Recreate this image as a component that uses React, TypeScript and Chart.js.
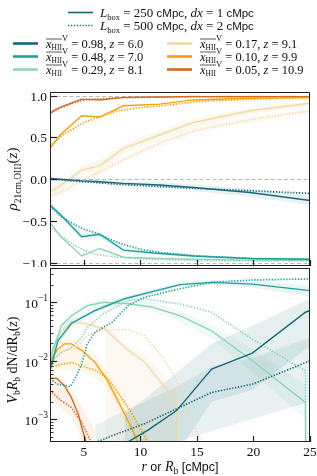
import React, { useEffect, useRef } from 'react';
import { Chart, registerables } from 'chart.js';
Chart.register(...registerables);

// ---------- data ----------
const xTicks = [5, 10, 15, 20, 25];
const rhoTicks = [-1, -0.5, 0, 0.5, 1];
const rhoRefLines = [-1, 0, 1];
const nTicks = [1e-3, 1e-2, 1e-1];
const nTickExp = ['−3', '−2', '−1'];

const xhiiLabels = ['0.98', '0.48', '0.29', '0.17', '0.10', '0.05'];
const zLabels = ['6.0', '7.0', '8.1', '9.1', '9.9', '10.9'];

// top panel: correlation coefficient
const rS = [2, 2.9, 4.8, 6.4, 8.5, 11.7, 14.7, 19.7, 25];
const rD = [2, 3, 4, 5, 6, 8, 10, 12, 15, 20, 25];
const rhoS6 = [0.01, 0.0, -0.02, -0.03, -0.05, -0.07, -0.1, -0.16, -0.255];
const rhoD6 = [0.0, -0.01, -0.02, -0.03, -0.04, -0.06, -0.075, -0.09, -0.11, -0.14, -0.17];
const rhoS7 = [-0.31, -0.42, -0.69, -0.66, -0.85, -0.89, -0.92, -0.95, -0.96];
const rhoD7 = [-0.33, -0.45, -0.53, -0.6, -0.64, -0.76, -0.84, -0.88, -0.92, -0.95, -0.96];
const rhoS8 = [-0.52, -0.68, -0.92, -0.83, -0.935, -0.95, -0.96, -0.97, -0.975];
const rhoD8 = [-0.57, -0.68, -0.78, -0.85, -0.9, -0.935, -0.955, -0.965, -0.975, -0.98, -0.98];
const rhoS9 = [-0.15, -0.08, 0.11, 0.16, 0.37, 0.53, 0.68, 0.82, 0.91];
const rhoD9 = [-0.21, -0.15, -0.08, 0.0, 0.06, 0.2, 0.33, 0.45, 0.59, 0.72, 0.82];
const rhoS99 = [0.37, 0.53, 0.76, 0.745, 0.88, 0.9, 0.95, 0.97, 0.98];
const rhoD99 = [0.39, 0.52, 0.6, 0.68, 0.73, 0.82, 0.86, 0.88, 0.93, 0.96, 0.975];
const rhoS109 = [0.79, 0.86, 0.96, 0.95, 0.98, 0.985, 0.99, 0.99, 0.99];
const rhoD109 = [0.81, 0.86, 0.91, 0.95, 0.96, 0.975, 0.98, 0.985, 0.99, 0.99, 0.99];
// top bands
const rhoS9Lo = [-0.19, -0.13, 0.06, 0.1, 0.31, 0.47, 0.62, 0.78, 0.88];
const rhoS9Hi = [-0.11, -0.03, 0.16, 0.22, 0.42, 0.58, 0.72, 0.85, 0.93];
const rhoD9Lo = [-0.25, -0.19, -0.12, -0.04, 0.02, 0.16, 0.29, 0.41, 0.55, 0.68, 0.78];
const rhoD9Hi = [-0.17, -0.11, -0.04, 0.04, 0.1, 0.24, 0.37, 0.49, 0.63, 0.76, 0.85];
const rhoS6Lo = [-0.01, -0.02, -0.04, -0.05, -0.08, -0.1, -0.14, -0.21, -0.31];
const rhoS6Hi = [0.03, 0.02, 0.0, -0.01, -0.02, -0.04, -0.06, -0.11, -0.2];
const rhoS7Lo = [-0.34, -0.45, -0.73, -0.7, -0.88, -0.91, -0.94, -0.96, -0.97];
const rhoS7Hi = [-0.28, -0.39, -0.65, -0.62, -0.82, -0.87, -0.9, -0.94, -0.95];

// bottom panel: bubble size distribution
const bS6x = [8.6, 10.7, 13.2, 16.3, 19.9, 24.6, 25];
const bS6 = [3.8e-4, 6.6e-4, 1.41e-3, 7.24e-3, 1.35e-2, 6.76e-2, 7.24e-2];
const bS6Lo = [1e-4, 1e-4, 2.51e-4, 2.0e-3, 3.16e-3, 1.58e-2, 1.58e-2];
const bS6Hi = [1.26e-3, 2.51e-3, 6.31e-3, 1.95e-2, 3.98e-2, 1.07e-1, 1.12e-1];
const bD6x = [6, 7.5, 10.4, 13.1, 16.3, 19.9, 25];
const bD6 = [3.98e-4, 5.25e-4, 8.51e-4, 1.48e-3, 2.88e-3, 3.98e-3, 1.0e-2];
const bD6Lo = [1e-4, 1e-4, 2.0e-4, 3.98e-4, 6.31e-4, 1e-3, 2.0e-3];
const bD6Hi = [7.94e-4, 1.12e-3, 2.0e-3, 3.55e-3, 7.94e-3, 1.12e-2, 2.51e-2];

const bS7x = [2, 2.7, 3.9, 6, 8.6, 13.5, 16.3, 19.9, 25];
const bS7 = [6.76e-3, 2.19e-2, 4.37e-2, 7.24e-2, 1.15e-1, 2.0e-1, 2.19e-1, 2.04e-1, 1.58e-1];
const bS7Lo = [5.01e-3, 1.78e-2, 3.8e-2, 6.46e-2, 1.05e-1, 1.82e-1, 2.0e-1, 1.78e-1, 1.26e-1];
const bS7Hi = [8.91e-3, 2.63e-2, 5.01e-2, 8.13e-2, 1.26e-1, 2.19e-1, 2.4e-1, 2.29e-1, 1.91e-1];
const bD7x = [2, 2.7, 3.8, 4.2, 4.8, 5.3, 6, 7.5, 8.9, 10.4, 13.5, 16.3, 19.9, 25];
const bD7 = [4.9e-3, 3.98e-3, 3.63e-3, 4.9e-3, 8.7e-3, 1.95e-2, 3.09e-2, 4.57e-2, 8.71e-2, 1.23e-1, 1.7e-1, 2.19e-1, 2.4e-1, 2.51e-1];

const bS8x = [2, 3, 3.9, 5.3, 6.7, 8.8, 11, 13.5, 16.3, 19.9, 24.6, 24.65];
const bS8 = [1.07e-2, 3.98e-2, 5.89e-2, 8.71e-2, 1.0e-1, 9.55e-2, 8.32e-2, 5.89e-2, 3.24e-2, 1.0e-2, 1.95e-3, 1e-5];
const bS8bx = [2, 3, 3.9, 5.3, 6.7, 8.8, 11, 13.5, 16.3, 19.9, 24.6];
const bS8Lo = [8.91e-3, 3.39e-2, 5.01e-2, 7.41e-2, 8.51e-2, 8.13e-2, 7.24e-2, 4.68e-2, 2.4e-2, 6.31e-3, 1e-3];
const bS8Hi = [1.26e-2, 4.68e-2, 6.92e-2, 1.02e-1, 1.17e-1, 1.12e-1, 1.05e-1, 7.08e-2, 4.17e-2, 1.58e-2, 3.98e-3];
const bD8x = [2, 3, 3.9, 4.8, 5.3, 6.7, 8.9, 10.4, 13.5, 16.3, 19.9, 24.6, 24.65];
const bD8 = [9.33e-3, 1.38e-2, 1.7e-2, 2.51e-2, 3.72e-2, 6.31e-2, 1.07e-1, 1.15e-1, 9.33e-2, 6.76e-2, 2.34e-2, 6.76e-3, 1e-5];

const bS9x = [2, 3, 3.9, 5.3, 6.9, 8.6, 10.4, 13.2, 13.25];
const bS9 = [1.29e-2, 3.24e-2, 4.57e-2, 4.27e-2, 3.47e-2, 1.7e-2, 9.33e-3, 2.0e-3, 1e-5];
const bS9bx = [2, 3, 3.9, 5.3, 6.9, 7, 8.6, 10.4, 13.2, 13.25];
const bS9Lo = [1.12e-2, 2.82e-2, 3.98e-2, 3.72e-2, 2.82e-2, 1e-5, 1e-5, 1e-5, 1e-5, 1e-5];
const bS9Hi = [1.48e-2, 3.63e-2, 5.13e-2, 4.79e-2, 3.98e-2, 3.98e-2, 2.09e-2, 1.26e-2, 3.55e-3, 1e-5];
const bD9x = [2, 3, 3.9, 4.8, 5.3, 6.7, 8.9, 10.4, 12, 13.1, 14, 15.5];
const bD9 = [8.71e-3, 1.45e-2, 1.58e-2, 2.09e-2, 2.69e-2, 3.39e-2, 3.39e-2, 2.69e-2, 1.12e-2, 5.01e-3, 1.78e-3, 3.55e-4];

const bS99x = [2, 2.7, 3.3, 3.9, 4.8, 6, 7, 8, 9.2, 10];
const bS99 = [1.0e-2, 1.58e-2, 1.95e-2, 1.95e-2, 1.51e-2, 9.33e-3, 4.9e-3, 2.09e-3, 7.24e-4, 3.16e-4];
const bD99x = [2, 3, 3.9, 4.8, 6, 7, 8, 9.2, 10.1, 11];
const bD99 = [7.76e-3, 8.71e-3, 9.33e-3, 8.13e-3, 6.92e-3, 5.25e-3, 2.88e-3, 1.32e-3, 6.31e-4, 3.16e-4];
const b99bx = [2, 3, 4, 5, 6, 7, 8, 9, 10, 11];
const b99Lo = [6.31e-3, 7.08e-3, 7.08e-3, 6.31e-3, 5.01e-3, 3.55e-3, 1.58e-3, 6.31e-4, 2.51e-4, 1e-4];
const b99Hi = [1.26e-2, 2.24e-2, 2.4e-2, 2.0e-2, 1.26e-2, 7.08e-3, 3.55e-3, 1.58e-3, 7.94e-4, 3.98e-4];

const bS109x = [2, 2.6, 3.3, 3.9, 4.5, 4.9, 5.4];
const bS109 = [5.01e-3, 5.01e-3, 3.72e-3, 2.34e-3, 1.23e-3, 6.31e-4, 3.16e-4];
const bD109x = [2, 3, 3.9, 4.8, 5.3, 5.9];
const bD109 = [3.09e-3, 2.09e-3, 1.58e-3, 8.91e-4, 5.62e-4, 3.16e-4];
const b109bx = [2, 3, 4, 5, 6];
const b109Lo = [2.51e-3, 1.58e-3, 1e-3, 3.98e-4, 1.58e-4];
const b109Hi = [6.31e-3, 5.01e-3, 3.16e-3, 1.41e-3, 6.31e-4];

// ---------- styles ----------
const COL = ['#16697a', '#1f9e9e', '#8ed4bd', '#f1d9a5', '#f5a106', '#d26b1d'];
const RGB = ['22,105,122', '31,158,158', '142,212,189', '241,217,165', '245,161,6', '210,107,29'];
const SERIF = '"Liberation Serif", "DejaVu Serif", serif';
const SANS = '"Liberation Sans", "DejaVu Sans", sans-serif';
const it = (p: number) => `italic ${p}px ${SERIF}`;
const rm = (p: number) => `${p}px ${SERIF}`;
const sf = (p: number) => `${p}px ${SANS}`;

type Seg = { t: string; f: string; dy?: number; ov?: boolean };

function richWidth(ctx: CanvasRenderingContext2D, segs: Seg[]) {
  let w = 0;
  for (const s of segs) {
    ctx.font = s.f;
    w += ctx.measureText(s.t).width;
  }
  return w;
}
function drawRich(ctx: CanvasRenderingContext2D, segs: Seg[], x: number, y: number, align = 'left') {
  const w = richWidth(ctx, segs);
  let cx = align === 'left' ? x : align === 'center' ? x - w / 2 : x - w;
  ctx.textAlign = 'left';
  ctx.textBaseline = 'alphabetic';
  ctx.fillStyle = '#111';
  for (const s of segs) {
    ctx.font = s.f;
    const sw = ctx.measureText(s.t).width;
    ctx.fillText(s.t, cx, y + (s.dy || 0));
    if (s.ov) {
      ctx.save();
      ctx.strokeStyle = '#111';
      ctx.lineWidth = 0.7;
      ctx.beginPath();
      ctx.moveTo(cx, y - 8.5);
      ctx.lineTo(cx + sw, y - 8.5);
      ctx.stroke();
      ctx.restore();
    }
    cx += sw;
  }
}

const pts = (xs: number[], ys: number[]) => xs.map((x, i) => ({ x, y: ys[i] }));
const line = (xs: number[], ys: number[], k: number, dotted: boolean) => ({
  data: pts(xs, ys),
  borderColor: COL[k],
  borderWidth: dotted ? 1.7 : 1.4,
  borderDash: dotted ? [1.3, 1.6] : [],
  borderCapStyle: 'butt',
  pointRadius: 0,
  fill: false,
  tension: 0,
  order: 1,
  clip: 0,
});
const band = (xs: number[], lo: number[], hi: number[], k: number, a: number) => [
  { data: pts(xs, lo), borderWidth: 0, borderColor: 'rgba(0,0,0,0)', pointRadius: 0, fill: false, order: 5, clip: 0 },
  { data: pts(xs, hi), borderWidth: 0, borderColor: 'rgba(0,0,0,0)', pointRadius: 0, fill: '-1', backgroundColor: `rgba(${RGB[k]},${a})`, order: 5, clip: 0 },
];

function drawFrame(ctx: CanvasRenderingContext2D, a: any) {
  ctx.save();
  ctx.strokeStyle = '#222';
  ctx.lineWidth = 1;
  ctx.setLineDash([]);
  ctx.strokeRect(Math.round(a.left) + 0.5, Math.round(a.top) + 0.5, Math.round(a.right - a.left) - 1, Math.round(a.bottom - a.top) - 1);
  ctx.restore();
}
function drawXTicks(ctx: CanvasRenderingContext2D, chart: any) {
  const a = chart.chartArea;
  const xs = chart.scales.x;
  ctx.save();
  ctx.strokeStyle = '#222';
  ctx.lineWidth = 1.2;
  for (const v of xTicks) {
    const px = Math.round(xs.getPixelForValue(v)) + 0.5;
    ctx.beginPath();
    ctx.moveTo(px, a.bottom);
    ctx.lineTo(px, a.bottom - 6);
    ctx.stroke();
  }
  ctx.restore();
}

const topPlugin = {
  id: 'topDecor',
  beforeDatasetsDraw(chart: any) {
    const { ctx, chartArea: a, scales } = chart;
    ctx.save();
    ctx.strokeStyle = '#b8b8b8';
    ctx.lineWidth = 1;
    ctx.setLineDash([4, 2.5]);
    for (const v of rhoRefLines) {
      const py = Math.round(scales.y.getPixelForValue(v)) + 0.5;
      ctx.beginPath();
      ctx.moveTo(a.left, py);
      ctx.lineTo(a.right, py);
      ctx.stroke();
    }
    ctx.restore();
  },
  afterDraw(chart: any) {
    const { ctx, chartArea: a, scales } = chart;
    drawFrame(ctx, a);
    drawXTicks(ctx, chart);
    // y ticks + labels
    ctx.save();
    ctx.strokeStyle = '#222';
    ctx.lineWidth = 1.2;
    for (const v of rhoTicks) {
      const py = Math.round(scales.y.getPixelForValue(v)) + 0.5;
      ctx.beginPath();
      ctx.moveTo(a.left, py);
      ctx.lineTo(a.left + 7, py);
      ctx.stroke();
      ctx.font = rm(13.5);
      ctx.fillStyle = '#111';
      ctx.textAlign = 'right';
      ctx.textBaseline = 'middle';
      ctx.fillText(v.toFixed(1).replace('-', '−'), a.left - 3, py + 1);
    }
    ctx.restore();
    // y title
    ctx.save();
    ctx.translate(17, (a.top + a.bottom) / 2);
    ctx.rotate(-Math.PI / 2);
    drawRich(ctx, [
      { t: 'ρ', f: it(15) },
      { t: '21cm,OIII', f: rm(9.5), dy: 3.5 },
      { t: '(', f: rm(15) },
      { t: 'z', f: it(15) },
      { t: ')', f: rm(15) },
    ], 0, 0, 'center');
    ctx.restore();
    // legend: box sizes
    ctx.save();
    ctx.strokeStyle = COL[0];
    ctx.lineWidth = 1.6;
    ctx.beginPath();
    ctx.moveTo(68, 12.5);
    ctx.lineTo(93, 12.5);
    ctx.stroke();
    ctx.setLineDash([1.3, 1.6]);
    ctx.lineWidth = 1.7;
    ctx.beginPath();
    ctx.moveTo(68, 25.5);
    ctx.lineTo(93, 25.5);
    ctx.stroke();
    ctx.restore();
    const boxes = [['250', '1'], ['500', '2']];
    boxes.forEach((b, i) => {
      drawRich(ctx, [
        { t: 'L', f: it(13) },
        { t: 'box', f: rm(8.5), dy: 3 },
        { t: ' = ' + b[0] + ' ', f: rm(13) },
        { t: 'cMpc', f: sf(11.5) },
        { t: ', ', f: rm(13) },
        { t: 'dx', f: it(13) },
        { t: ' = ' + b[1] + ' ', f: rm(13) },
        { t: 'cMpc', f: sf(11.5) },
      ], 100, 17 + i * 13);
    });
    // legend: redshifts
    for (let k = 0; k < 6; k++) {
      const col = Math.floor(k / 3);
      const row = k % 3;
      const lx = col === 0 ? 13 : 167;
      const ly = 43.5 + row * 13;
      ctx.save();
      ctx.strokeStyle = COL[k];
      ctx.lineWidth = 2.6;
      ctx.beginPath();
      ctx.moveTo(lx, ly);
      ctx.lineTo(lx + 25, ly);
      ctx.stroke();
      ctx.restore();
      drawRich(ctx, [
        { t: 'x', f: it(12.5), ov: true },
        { t: 'HII', f: rm(7.5), dy: 2.5, ov: true },
        { t: 'V', f: rm(8.5), dy: -6.5 },
        { t: ' = ' + xhiiLabels[k] + ', ', f: rm(12.5) },
        { t: 'z', f: it(12.5) },
        { t: ' = ' + zLabels[k], f: rm(12.5) },
      ], lx + 33, ly + 4);
    }
  },
};

const botPlugin = {
  id: 'botDecor',
  afterDraw(chart: any) {
    const { ctx, chartArea: a, scales } = chart;
    drawFrame(ctx, a);
    drawXTicks(ctx, chart);
    const ys = scales.y;
    ctx.save();
    ctx.strokeStyle = '#222';
    // minor ticks
    ctx.lineWidth = 0.9;
    for (const d of [1e-4, 1e-3, 1e-2, 1e-1]) {
      for (let m = 2; m <= 9; m++) {
        const v = m * d;
        if (v < ys.min || v > ys.max) continue;
        const py = Math.round(ys.getPixelForValue(v)) + 0.5;
        ctx.beginPath();
        ctx.moveTo(a.left, py);
        ctx.lineTo(a.left + 3.5, py);
        ctx.stroke();
      }
    }
    ctx.lineWidth = 1.2;
    nTicks.forEach((v, i) => {
      const py = Math.round(ys.getPixelForValue(v)) + 0.5;
      ctx.beginPath();
      ctx.moveTo(a.left, py);
      ctx.lineTo(a.left + 7, py);
      ctx.stroke();
      ctx.font = rm(9.5);
      const ew = ctx.measureText(nTickExp[i]).width;
      ctx.fillStyle = '#111';
      ctx.textAlign = 'left';
      ctx.textBaseline = 'alphabetic';
      ctx.fillText(nTickExp[i], a.left - 2 - ew, py - 2);
      ctx.font = rm(13.5);
      ctx.textAlign = 'right';
      ctx.fillText('10', a.left - 2 - ew, py + 5);
    });
    // x labels
    ctx.font = rm(13.5);
    ctx.textAlign = 'center';
    ctx.textBaseline = 'middle';
    ctx.fillStyle = '#111';
    for (const v of xTicks) {
      ctx.fillText(String(v), scales.x.getPixelForValue(v), a.bottom + 10);
    }
    ctx.restore();
    // x title
    drawRich(ctx, [
      { t: 'r', f: it(14) },
      { t: ' or ', f: sf(12.5) },
      { t: 'R', f: it(14) },
      { t: 'b', f: rm(9.5), dy: 3 },
      { t: ' [cMpc]', f: sf(12.5) },
    ], (a.left + a.right) / 2, a.bottom + 29, 'center');
    // y title
    ctx.save();
    ctx.translate(17, (a.top + a.bottom) / 2 + 5);
    ctx.rotate(-Math.PI / 2);
    drawRich(ctx, [
      { t: 'V', f: it(14) },
      { t: 'b', f: rm(9.5), dy: 3 },
      { t: 'R', f: it(14) },
      { t: 'b', f: rm(9.5), dy: 3 },
      { t: ' dN/dR', f: rm(14) },
      { t: 'b', f: rm(9.5), dy: 3 },
      { t: '(', f: rm(14) },
      { t: 'z', f: it(14) },
      { t: ')', f: rm(14) },
    ], 0, 0, 'center');
    ctx.restore();
  },
};

const baseOpts = (padding: any, y: any) => ({
  responsive: false,
  animation: false,
  devicePixelRatio: 1,
  events: [],
  layout: { padding },
  plugins: { legend: { display: false }, tooltip: { enabled: false }, title: { display: false } },
  scales: {
    x: { type: 'linear', min: 2, max: 25, display: false },
    y,
  },
});

export default function App() {
  const topRef = useRef<HTMLCanvasElement>(null);
  const botRef = useRef<HTMLCanvasElement>(null);
  useEffect(() => {
    const topSets: any[] = [
      ...band(rS, rhoS9Lo, rhoS9Hi, 3, 0.2),
      ...band(rD, rhoD9Lo, rhoD9Hi, 3, 0.12),
      ...band(rS, rhoS6Lo, rhoS6Hi, 0, 0.09),
      ...band(rS, rhoS7Lo, rhoS7Hi, 1, 0.1),
      line(rS, rhoS6, 0, false), line(rD, rhoD6, 0, true),
      line(rS, rhoS7, 1, false), line(rD, rhoD7, 1, true),
      line(rS, rhoS8, 2, false), line(rD, rhoD8, 2, true),
      line(rS, rhoS9, 3, false), line(rD, rhoD9, 3, true),
      line(rS, rhoS99, 4, false), line(rD, rhoD99, 4, true),
      line(rS, rhoS109, 5, false), line(rD, rhoD109, 5, true),
    ];
    const botSets: any[] = [
      ...band(bS6x, bS6Lo, bS6Hi, 0, 0.11),
      ...band(bD6x, bD6Lo, bD6Hi, 0, 0.09),
      ...band(bS7x, bS7Lo, bS7Hi, 1, 0.1),
      ...band(bS8bx, bS8Lo, bS8Hi, 2, 0.12),
      ...band(bS9bx, bS9Lo, bS9Hi, 3, 0.15),
      ...band(b99bx, b99Lo, b99Hi, 4, 0.09),
      ...band(b109bx, b109Lo, b109Hi, 5, 0.09),
      line(bS6x, bS6, 0, false), line(bD6x, bD6, 0, true),
      line(bS7x, bS7, 1, false), line(bD7x, bD7, 1, true),
      line(bS8x, bS8, 2, false), line(bD8x, bD8, 2, true),
      line(bS9x, bS9, 3, false), line(bD9x, bD9, 3, true),
      line(bS99x, bS99, 4, false), line(bD99x, bD99, 4, true),
      line(bS109x, bS109, 5, false), line(bD109x, bD109, 5, true),
    ];
    const c1 = new Chart(topRef.current as HTMLCanvasElement, {
      type: 'line',
      data: { datasets: topSets },
      options: baseOpts({ left: 50, right: 7, top: 92, bottom: 1 }, { type: 'linear', min: -1.04, max: 1.045, display: false }) as any,
      plugins: [topPlugin],
    });
    const c2 = new Chart(botRef.current as HTMLCanvasElement, {
      type: 'line',
      data: { datasets: botSets },
      options: baseOpts({ left: 50, right: 7, top: 1, bottom: 34 }, { type: 'logarithmic', min: 4.1e-4, max: 0.385, display: false }) as any,
      plugins: [botPlugin],
    });
    return () => {
      c1.destroy();
      c2.destroy();
    };
  }, []);
  return (
    <div style={{ position: 'absolute', left: 0, top: 0, width: 317, height: 476, background: '#fff' }}>
      <canvas ref={topRef} width={317} height={267} style={{ display: 'block', width: 317, height: 267 }} />
      <canvas ref={botRef} width={317} height={209} style={{ display: 'block', width: 317, height: 209 }} />
    </div>
  );
}
